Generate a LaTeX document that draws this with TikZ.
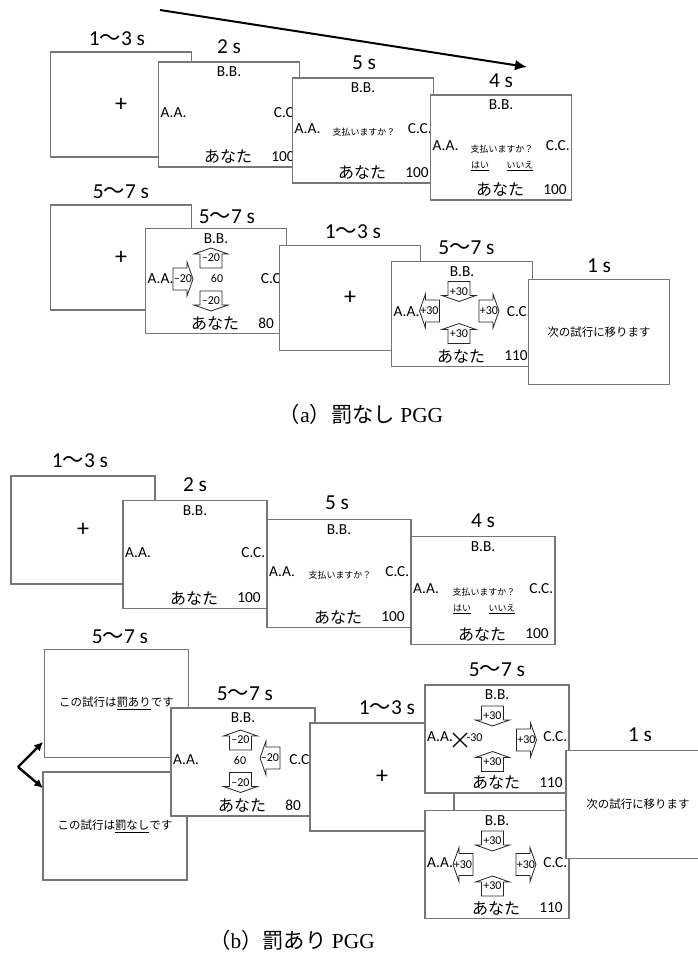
\documentclass[tikz,border=0pt]{standalone}
\usepackage{fontspec}
\setmainfont{Carlito}
\newfontfamily\jp{Noto Sans CJK JP}
\newfontfamily\capfont{Liberation Serif}
\usetikzlibrary{calc,arrows.meta,shapes.misc}
\definecolor{framegray}{RGB}{118,118,118}

\tikzset{
  slide/.style={draw=framegray, fill=white, line width=0.8pt, inner sep=0pt,
    minimum width=105.75pt, minimum height=78.75pt},
  slideb/.style={slide, minimum width=108pt, minimum height=81pt},
  timelabel/.style={font=\fontsize{16}{17}\selectfont, inner sep=0pt, anchor=base},
  seat/.style={font=\fontsize{11.5}{12}\selectfont, inner sep=0pt},
  you/.style={font=\jp\fontsize{12}{13}\selectfont, inner sep=0pt},
  fixation/.style={font=\fontsize{18}{19}\selectfont},
  ask/.style={font=\jp\fontsize{6.7}{7}\selectfont, inner sep=0pt},
  msg/.style={font=\jp\fontsize{8.6}{10}\selectfont},
  pot/.style={font=\fontsize{9}{10}\selectfont, inner sep=0pt},
  giftline/.style={draw=black!85, fill=white, line width=0.6pt},
  giftval/.style={font=\fontsize{9}{10}\selectfont, inner sep=0pt},
  gift/.pic={
    \draw[giftline] (-10,-11) -- (4,-11) -- (4,-17) -- (10,0) -- (4,17) -- (4,11) -- (-10,11) -- cycle;
    \node[giftval] (-v) at (0,0) {#1};
  },
  flow/.style={line width=1.5pt, -{Latex[length=9pt,width=8pt]}},
  fork/.style={line width=1.8pt, -{Latex[length=6.5pt,width=6.5pt]}},
  caption/.style={font=\capfont\fontsize{16}{18}\selectfont, inner sep=0pt},
}

\newcommand\playerlabels[2]{%
  \node[seat] (#1-bb) at ($(#1.north)+(0,10.5)$) {B.B.};
  \node[seat, anchor=west] (#1-aa) at ($(#1.west)+(2.5,-2)$) {A.A.};
  \node[seat, anchor=east] (#1-cc) at ($(#1.east)+(-2,-2)$) {C.C.};
  \node[you] (#1-you) at ($(#1.south)+(-1,-11)$) {あなた};
  \node[seat, anchor=west] (#1-pt) at ($(#1.south)+(42,-11)$) {#2};
}

\begin{document}
\begin{tikzpicture}[x=0.75pt, y=-0.75pt]
  \useasboundingbox (0,0) rectangle (698,960);

  \coordinate (tstart) at (160,10);
  \coordinate (tend) at (527,67);
  \draw[flow] (tstart) -- (tend);

  \node[slide, fixation] (a1) at (121,104.5) {+};
  \node[timelabel] (a1-t) at ($(a1.north)+(-4,-6)$) {1{\jp 〜}3 s};
  \node[slide] (a2) at (229,114.5) {};
  \node[timelabel] (a2-t) at ($(a2.north)+(0,-8)$) {2 s};
  \playerlabels{a2}{100}
  \node[slide] (a3) at (363,130.5) {};
  \node[timelabel] (a3-t) at ($(a3.north)+(1,-8)$) {5 s};
  \playerlabels{a3}{100}
  \node[ask] (a3-ask) at ($(a3.center)+(1,2)$) {支払いますか？};
  \node[slide] (a4) at (501,147.5) {};
  \node[timelabel] (a4-t) at ($(a4.north)+(0,-7)$) {4 s};
  \playerlabels{a4}{100}
  \node[ask] (a4-ask) at ($(a4.center)+(1,1.5)$) {支払いますか？};
  \node[ask] (a4-yes) at ($(a4.center)+(-21,19)$) {\underline{はい}};
  \node[ask] (a4-no) at ($(a4.center)+(19,19)$) {\underline{いいえ}};

  \node[slide, fixation] (a5) at (121,257.5) {+};
  \node[timelabel] (a5-t) at ($(a5.north)+(0,-6)$) {5{\jp 〜}7 s};
  \node[slide] (a6) at (216,281) {};
  \node[timelabel] (a6-t) at ($(a6.north)+(11,-4.5)$) {5{\jp 〜}7 s};
  \playerlabels{a6}{80}
  \node[pot] (a6-pot) at ($(a6.center)+(1,-2.5)$) {60};
  \pic[rotate=90] (a6-fromb) at ($(a6.center)+(-5,-23)$) {gift=–20};
  \pic (a6-froma) at ($(a6.center)+(-33,-2)$) {gift=–20};
  \pic[rotate=-90] (a6-fromy) at ($(a6.center)+(-5,20)$) {gift=–20};
  \node[slide, fixation] (a7) at (350,297.7) {+};
  \node[timelabel] (a7-t) at ($(a7.north)+(3,-6)$) {1{\jp 〜}3 s};
  \node[slide] (a8) at (462,314) {};
  \node[timelabel] (a8-t) at ($(a8.north)+(4.5,-6.5)$) {5{\jp 〜}7 s};
  \playerlabels{a8}{110}
  \pic[rotate=-90] (a8-tob) at ($(a8.center)+(-3,-22.5)$) {gift=+30};
  \pic[rotate=180] (a8-toa) at ($(a8.center)+(-32.5,-3)$) {gift=+30};
  \pic (a8-toc) at ($(a8.center)+(27,-3)$) {gift=+30};
  \pic[rotate=90] (a8-toy) at ($(a8.center)+(-3,19.5)$) {gift=+30};
  \node[slide, msg] (a9) at (599,332) {次の試行に移ります};
  \node[timelabel] (a9-t) at ($(a9.north)+(0,-6.5)$) {1 s};

  \node[caption] (capa) at (361,414) {{\jp （}a{\jp ）罰なし} PGG};

  \node[slideb, fixation] (b1) at (83,530) {+};
  \node[timelabel] (b1-t) at ($(b1.north)+(-3,-8)$) {1{\jp 〜}3 s};
  \node[slideb] (b2) at (195,554.5) {};
  \node[timelabel] (b2-t) at ($(b2.north)+(0,-8)$) {2 s};
  \playerlabels{b2}{100}
  \node[slideb] (b3) at (339,573.5) {};
  \node[timelabel] (b3-t) at ($(b3.north)+(-2,-9)$) {5 s};
  \playerlabels{b3}{100}
  \node[ask] (b3-ask) at ($(b3.center)+(1,2)$) {支払いますか？};
  \node[slideb] (b4) at (483,590.5) {};
  \node[timelabel] (b4-t) at ($(b4.north)+(0,-8.5)$) {4 s};
  \playerlabels{b4}{100}
  \node[ask] (b4-ask) at ($(b4.center)+(1,1.5)$) {支払いますか？};
  \node[ask] (b4-yes) at ($(b4.center)+(-21,19)$) {\underline{はい}};
  \node[ask] (b4-no) at ($(b4.center)+(19,19)$) {\underline{いいえ}};

  \node[slideb, msg] (b5) at (116.5,703.5) {この試行は\underline{罰あり}です};
  \node[timelabel] (b5-t) at ($(b5.north)+(3.5,-5)$) {5{\jp 〜}7 s};
  \node[slideb, msg] (b6) at (115,826) {この試行は\underline{罰なし}です};
  \coordinate (fork) at (18,767);
  \coordinate (forkup) at (43,742);
  \coordinate (forkdn) at (43,788);
  \draw[fork] (fork) -- (forkup);
  \draw[fork] (fork) -- (forkdn);

  \node[slideb] (b7) at (243,762) {};
  \node[timelabel] (b7-t) at ($(b7.north)+(2,-6.5)$) {5{\jp 〜}7 s};
  \playerlabels{b7}{80}
  \node[pot] (b7-pot) at ($(b7.center)+(-3,-2)$) {60};
  \pic[rotate=90] (b7-fromb) at ($(b7.center)+(-2.5,-22)$) {gift=–20};
  \pic[rotate=180] (b7-fromc) at ($(b7.center)+(27,-4)$) {gift=–20};
  \pic[rotate=-90] (b7-fromy) at ($(b7.center)+(-2.5,20.5)$) {gift=–20};
  \node[slideb, fixation] (b8) at (382,777) {+};
  \node[timelabel] (b8-t) at ($(b8.north)+(5,-7.5)$) {1{\jp 〜}3 s};
  \node[slideb] (b9) at (497,739) {};
  \node[timelabel] (b9-t) at ($(b9.north)+(0,-8)$) {5{\jp 〜}7 s};
  \playerlabels{b9}{110}
  \pic[rotate=-90] (b9-tob) at ($(b9.center)+(-4.5,-23)$) {gift=+30};
  \node[cross out, draw, line width=0.9pt, minimum size=9.75pt, inner sep=0pt] (b9-x) at ($(b9.center)+(-37,1)$) {};
  \node[giftval] (b9-cut) at ($(b9.center)+(-22.5,-1.5)$) {-30};
  \pic (b9-toc) at ($(b9.center)+(29.5,1)$) {gift=+30};
  \pic[rotate=90] (b9-toy) at ($(b9.center)+(-4.5,22.5)$) {gift=+30};
  \node[slideb] (b10) at (497,864.5) {};
  \playerlabels{b10}{110}
  \pic[rotate=-90] (b10-tob) at ($(b10.center)+(-4.5,-23.5)$) {gift=+30};
  \pic[rotate=180] (b10-toa) at ($(b10.center)+(-34,0)$) {gift=+30};
  \pic (b10-toc) at ($(b10.center)+(29,0)$) {gift=+30};
  \pic[rotate=90] (b10-toy) at ($(b10.center)+(-4.5,21.5)$) {gift=+30};
  \node[slideb, msg] (b11) at (638,804.5) {次の試行に移ります};
  \node[timelabel] (b11-t) at ($(b11.north)+(2,-8)$) {1 s};

  \node[caption] (capb) at (292,940) {{\jp （}b{\jp ）罰あり} PGG};
\end{tikzpicture}
\end{document}
